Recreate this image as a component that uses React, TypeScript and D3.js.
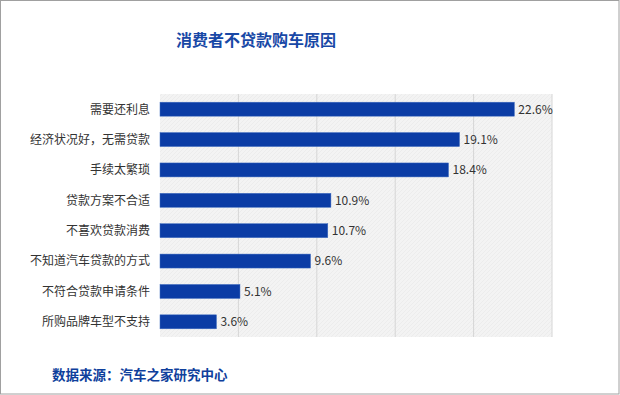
import * as d3 from "d3";

const reasons = [
  "需要还利息",
  "经济状况好，无需贷款",
  "手续太繁琐",
  "贷款方案不合适",
  "不喜欢贷款消费",
  "不知道汽车贷款的方式",
  "不符合贷款申请条件",
  "所购品牌车型不支持",
];
const shares = [22.6, 19.1, 18.4, 10.9, 10.7, 9.6, 5.1, 3.6];
const gridTicks = [0, 5, 10, 15, 20, 25];

const title = "消费者不贷款购车原因";
const source = "数据来源：汽车之家研究中心";

const W = 620;
const H = 395;
const plot = { left: 160, right: 552, top: 94, bottom: 337 };
const font = "'Noto Sans CJK SC', 'Noto Sans', sans-serif";

const App = () => {
  const x = d3.scaleLinear().domain([0, 25]).range([plot.left, plot.right]);
  const y = d3
    .scaleBand()
    .domain(reasons)
    .range([plot.top, plot.bottom])
    .paddingInner(0.54)
    .paddingOuter(0.27);

  const rows = reasons.map((r, i) => ({ name: r, value: shares[i] }));

  return (
    <div style={{ position: "absolute", left: 0, top: 0 }}>
      <svg width={W} height={H} style={{ display: "block" }}>
        <defs>
          <pattern id="hatch" width="4" height="4" patternUnits="userSpaceOnUse">
            <rect width="4" height="4" fill="#f3f3f3" />
            <path d="M0,4 L4,0" stroke="#ececec" strokeWidth="1" />
          </pattern>
        </defs>
        <rect x={0} y={0} width={W} height={H} fill="#fff" />
        <rect x={0.5} y={0.5} width={W - 1.5} height={H - 1.5} fill="none" stroke="#a0a0a0" strokeWidth={1} />

        <text
          x={256}
          y={46}
          textAnchor="middle"
          fontFamily={font}
          fontWeight="bold"
          fontSize={16}
          fill="#1848a6"
        >
          {title}
        </text>

        <rect
          x={plot.left}
          y={plot.top}
          width={plot.right - plot.left}
          height={plot.bottom - plot.top}
          fill="url(#hatch)"
        />
        {gridTicks.slice(1).map((t) => (
          <line
            key={t}
            x1={x(t)}
            x2={x(t)}
            y1={plot.top}
            y2={plot.bottom}
            stroke="#d6d6d6"
            strokeWidth={1}
          />
        ))}

        {rows.map((d) => {
          const yy = y(d.name)!;
          const cy = yy + y.bandwidth() / 2;
          return (
            <g key={d.name}>
              <rect
                x={x(0)}
                y={yy}
                width={x(d.value) - x(0)}
                height={y.bandwidth()}
                fill="#0b3ca5"
                stroke="#3f6cc0"
                strokeWidth={0.5}
              />
              <text
                x={150}
                y={cy}
                dy="0.36em"
                textAnchor="end"
                fontFamily={font}
                fontSize={12}
                fill="#333"
              >
                {d.name}
              </text>
              <text
                x={x(d.value) + 4}
                y={cy}
                dy="0.36em"
                fontFamily={font}
                fontSize={12}
                fill="#333"
              >
                {d.value.toFixed(1)}%
              </text>
            </g>
          );
        })}

        <text x={52} y={380} fontFamily={font} fontWeight="bold" fontSize={13.5} fill="#0f3f9c">
          {source}
        </text>
      </svg>
    </div>
  );
};

export default App;
